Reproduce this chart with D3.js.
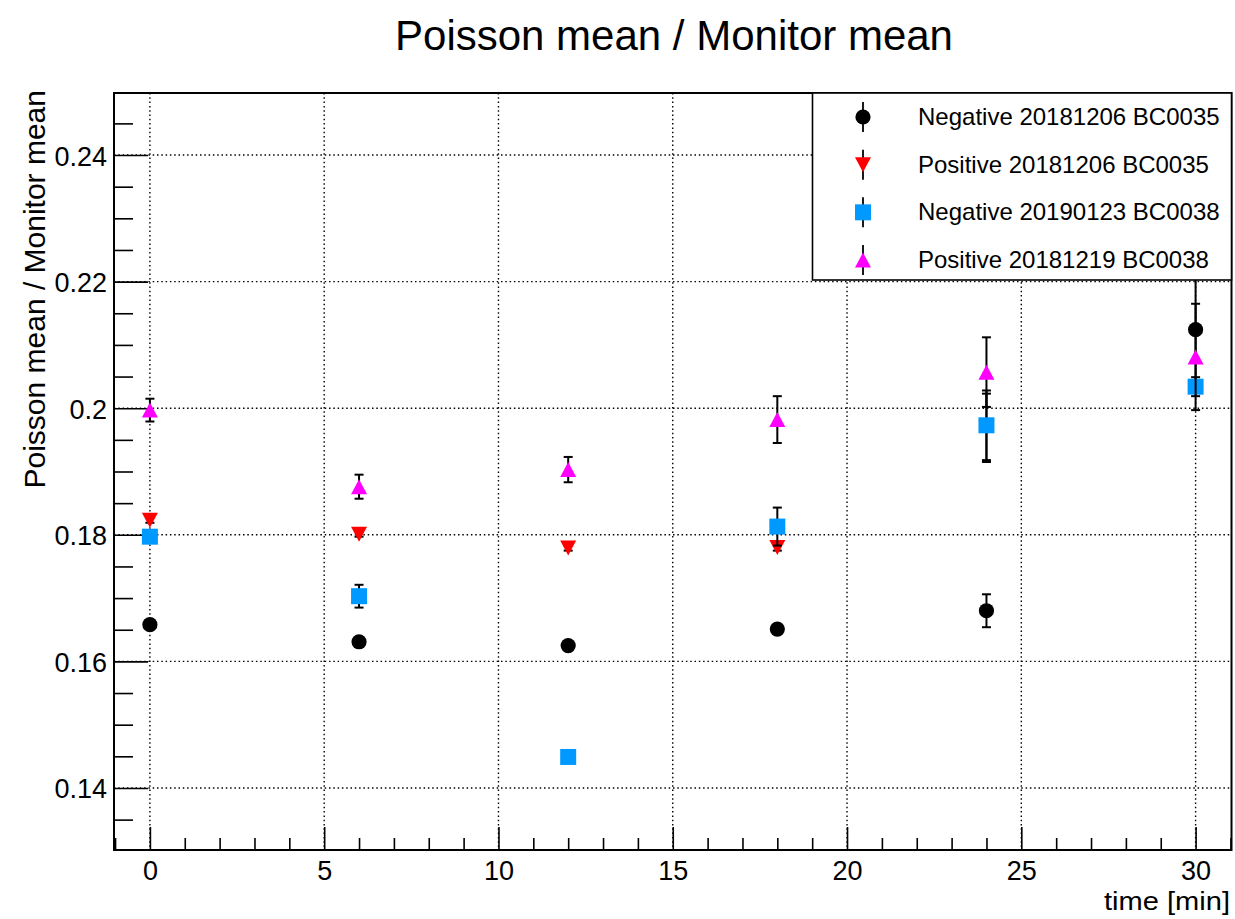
<!DOCTYPE html>
<html>
<head>
<meta charset="utf-8">
<script src="https://cdn.jsdelivr.net/npm/d3@7"></script>
<style>
  html, body { margin: 0; padding: 0; background: #fff; }
  svg { display: block; font-family: "Liberation Sans", Arial, Helvetica, sans-serif; }
</style>
</head>
<body>
<svg id="chart" width="1235" height="919"></svg>
<script>
// Measurement times [min]
const times = [0, 6, 12, 18, 24, 30];
const timesPos35 = [0, 6, 12, 18, 24];

// Poisson mean / Monitor mean for each run, with statistical errors
const neg35 = [0.1658, 0.1631, 0.1625, 0.1651, 0.1680, 0.2124];
const neg35Err = [0.0004, 0.0004, 0.0003, 0.0004, 0.0026, 0.0080];

const pos35 = [0.1823, 0.1801, 0.1779, 0.1780, 0.1969];
const pos35Err = [0.0004, 0.0004, 0.0004, 0.0005, 0.0054];

const neg38 = [0.1797, 0.1703, 0.1449, 0.1813, 0.1973, 0.2034];
const neg38Err = [0.0004, 0.0018, 0.0003, 0.0030, 0.0055, 0.0015];

const pos38 = [0.1997, 0.1876, 0.1903, 0.1982, 0.2057, 0.2081];
const pos38Err = [0.0018, 0.0019, 0.0020, 0.0037, 0.0055, 0.0084];

const seriesNames = [
  "Negative 20181206 BC0035",
  "Positive 20181206 BC0035",
  "Negative 20190123 BC0038",
  "Positive 20181219 BC0038"
];

// Axis tick values
const xMajor = [0, 5, 10, 15, 20, 25, 30];
const xMajorLabels = ["0", "5", "10", "15", "20", "25", "30"];
const yMajor = [0.14, 0.16, 0.18, 0.20, 0.22, 0.24];
const yMajorLabels = ["0.14", "0.16", "0.18", "0.2", "0.22", "0.24"];

const series = [
  { name: seriesNames[0], x: times, y: neg35, e: neg35Err, color: "#000000", shape: "circle" },
  { name: seriesNames[1], x: timesPos35, y: pos35, e: pos35Err, color: "#ff0000", shape: "triDown" },
  { name: seriesNames[2], x: times, y: neg38, e: neg38Err, color: "#0099ff", shape: "square" },
  { name: seriesNames[3], x: times, y: pos38, e: pos38Err, color: "#ff00ff", shape: "triUp" }
];

const svg = d3.select("#chart");
const frame = { left: 114, right: 1231.5, top: 93, bottom: 850 };

const x = d3.scaleLinear().domain([-1.03, 31.03]).range([frame.left, frame.right]);
const y = d3.scaleLinear().domain([0.1302, 0.2498]).range([frame.bottom, frame.top]);

// Title
svg.append("text")
  .attr("x", 674).attr("y", 50)
  .attr("text-anchor", "middle")
  .attr("font-size", 42)
  .text("Poisson mean / Monitor mean");

// Dotted grid at major ticks
const grid = svg.append("g").attr("stroke", "#000").attr("stroke-width", 1.4)
  .attr("stroke-dasharray", "1.5,2.8");
grid.selectAll("line.gx").data(xMajor).join("line")
  .attr("x1", d => x(d)).attr("x2", d => x(d))
  .attr("y1", frame.top).attr("y2", frame.bottom);
grid.selectAll("line.gy").data(yMajor).join("line")
  .attr("x1", frame.left).attr("x2", frame.right)
  .attr("y1", d => y(d)).attr("y2", d => y(d));

// X axis: major ticks with labels, minor ticks every minute
const xMinor = d3.range(-1, 32, 1).filter(v => v >= x.domain()[0] && v <= x.domain()[1] && v % 5 !== 0);
const xAxis = svg.append("g")
  .attr("transform", `translate(0,${frame.bottom})`)
  .call(d3.axisBottom(x).tickValues(xMajor).tickSize(-23)
    .tickFormat((d, i) => xMajorLabels[i]));
xAxis.select(".domain").remove();
xAxis.selectAll("line").attr("stroke", "#000").attr("stroke-width", 1.6);
xAxis.selectAll("text")
  .attr("y", 30).attr("dy", null)
  .attr("font-size", 27).attr("font-family", "Liberation Sans, Arial, sans-serif")
  .attr("fill", "#000");
svg.append("g")
  .attr("transform", `translate(0,${frame.bottom})`)
  .call(d3.axisBottom(x).tickValues(xMinor).tickSize(-12).tickFormat(""))
  .call(g => g.select(".domain").remove())
  .call(g => g.selectAll("line").attr("stroke", "#000").attr("stroke-width", 1.6));

// Y axis: major ticks with labels, minor ticks every 0.005
const yMinor = d3.range(0, 24).map(i => +(0.13 + 0.005 * i).toFixed(3))
  .filter(v => v > y.domain()[0] && v < y.domain()[1] && !yMajor.some(m => Math.abs(m - v) < 1e-9));
const yAxis = svg.append("g")
  .attr("transform", `translate(${frame.left},0)`)
  .call(d3.axisLeft(y).tickValues(yMajor).tickSize(-34).tickPadding(7)
    .tickFormat((d, i) => yMajorLabels[i]));
yAxis.select(".domain").remove();
yAxis.selectAll("line").attr("stroke", "#000").attr("stroke-width", 1.6);
yAxis.selectAll("text")
  .attr("x", -7).attr("dy", "0.37em")
  .attr("font-size", 27).attr("font-family", "Liberation Sans, Arial, sans-serif")
  .attr("fill", "#000");
svg.append("g")
  .attr("transform", `translate(${frame.left},0)`)
  .call(d3.axisLeft(y).tickValues(yMinor).tickSize(-19).tickFormat(""))
  .call(g => g.select(".domain").remove())
  .call(g => g.selectAll("line").attr("stroke", "#000").attr("stroke-width", 1.6));

// Axis titles
svg.append("text")
  .attr("x", 1230).attr("y", 910)
  .attr("text-anchor", "end")
  .attr("font-size", 26)
  .attr("textLength", 126)
  .attr("lengthAdjust", "spacingAndGlyphs")
  .text("time [min]");
svg.append("text")
  .attr("transform", "translate(45,90) rotate(-90)")
  .attr("text-anchor", "end")
  .attr("font-size", 30)
  .text("Poisson mean / Monitor mean");

// Marker paths centred on the origin
function markerPath(shape) {
  if (shape === "circle") return d3.symbol(d3.symbolCircle, Math.PI * 7.6 * 7.6)();
  if (shape === "square") return "M-8,-8H8V8H-8Z";
  if (shape === "triUp") return "M0,-7.5L8,7.5L-8,7.5Z";
  if (shape === "triDown") return "M0,7.5L8,-7.5L-8,-7.5Z";
}

// Data points with error bars
const plot = svg.append("g");
series.forEach(s => {
  const pts = s.x.map((t, i) => ({ t, v: s.y[i], e: s.e[i] }));
  const g = plot.append("g");
  const eb = g.append("g").attr("stroke", "#000").attr("stroke-width", 2);
  eb.selectAll("line.bar").data(pts).join("line")
    .attr("x1", d => x(d.t)).attr("x2", d => x(d.t))
    .attr("y1", d => y(d.v + d.e)).attr("y2", d => y(d.v - d.e));
  eb.selectAll("line.capTop").data(pts).join("line")
    .attr("x1", d => x(d.t) - 4.5).attr("x2", d => x(d.t) + 4.5)
    .attr("y1", d => y(d.v + d.e)).attr("y2", d => y(d.v + d.e));
  eb.selectAll("line.capBot").data(pts).join("line")
    .attr("x1", d => x(d.t) - 4.5).attr("x2", d => x(d.t) + 4.5)
    .attr("y1", d => y(d.v - d.e)).attr("y2", d => y(d.v - d.e));
  g.selectAll("path.mk").data(pts).join("path")
    .attr("d", markerPath(s.shape))
    .attr("transform", d => `translate(${x(d.t)},${y(d.v)})`)
    .attr("fill", s.color);
});

// Frame
svg.append("rect")
  .attr("x", frame.left).attr("y", frame.top)
  .attr("width", frame.right - frame.left).attr("height", frame.bottom - frame.top)
  .attr("fill", "none").attr("stroke", "#000").attr("stroke-width", 2);

// Legend
const legend = { x0: 812.5, y0: 93, x1: 1231.5, y1: 280 };
svg.append("rect")
  .attr("x", legend.x0).attr("y", legend.y0)
  .attr("width", legend.x1 - legend.x0).attr("height", legend.y1 - legend.y0)
  .attr("fill", "#fff").attr("stroke", "#000").attr("stroke-width", 1.6);
const entryY = d3.scalePoint().domain(seriesNames).range([117, 260]);
series.forEach(s => {
  const cy = entryY(s.name);
  svg.append("line")
    .attr("x1", 863).attr("x2", 863).attr("y1", cy - 15).attr("y2", cy + 15)
    .attr("stroke", "#000").attr("stroke-width", 1.8);
  svg.append("path")
    .attr("d", markerPath(s.shape))
    .attr("transform", `translate(863,${cy})`)
    .attr("fill", s.color);
  svg.append("text")
    .attr("x", 918).attr("y", cy + 8)
    .attr("font-size", 24)
    .text(s.name);
});
</script>
</body>
</html>
